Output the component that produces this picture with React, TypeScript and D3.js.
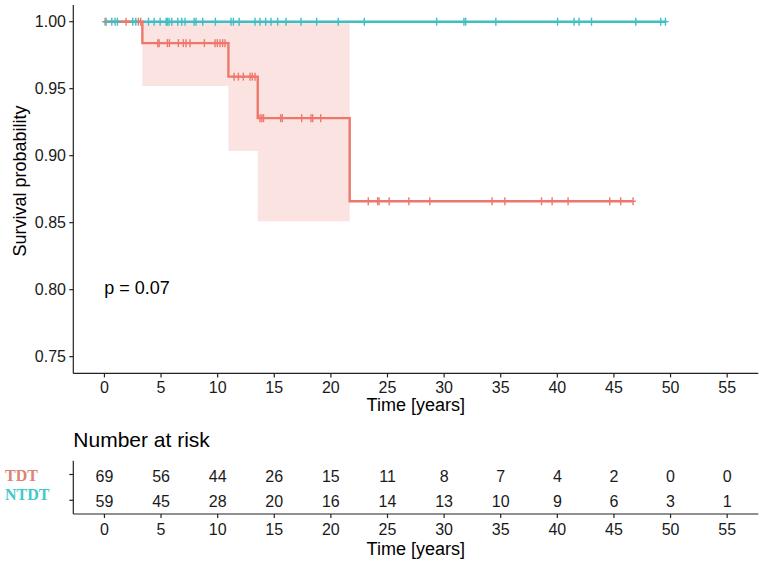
import React, { useEffect } from "react";
import * as d3 from "d3";

// ---- data ----
const tdtDropTimes = [0, 3.35, 10.95, 13.54, 21.66];
const tdtSurv = [1.0, 0.984, 0.959, 0.928, 0.866];
const tdtLower = [1.0, 0.952, 0.9035, 0.851, NaN];
const tdtEnd = 46.69;
const ntdtEnd = 49.55;

const tdtCensor = [0.06, 1.91, 3.0, 3.2, 4.71, 4.83, 5.56, 5.74, 6.53, 6.97, 7.21, 7.56, 8.83, 9.77, 9.97, 10.21, 10.44, 10.65,
  11.45, 11.83, 12.27, 12.86, 13.06, 13.3, 13.74, 13.9, 14.05, 15.56, 15.71, 17.42, 18.24, 18.39, 19.1,
  23.3, 24.13, 24.25, 25.15, 26.89, 28.74, 34.24, 35.37, 38.6, 39.54, 40.95, 44.63, 45.6, 46.69];
const ntdtCensor = [0.15, 0.65, 0.94, 1.15, 2.5, 2.77, 3.89, 4.39, 4.92, 5.45, 5.56, 5.71, 5.95, 6.48, 6.83, 7.12, 7.92, 8.09,
  8.68, 9.8, 11.18, 11.39, 11.9, 13.3, 13.74, 14.24, 14.71, 15.3, 16.04, 17.36, 18.74, 20.65, 22.95, 29.34, 31.75, 31.9,
  34.57, 40.02, 41.48, 41.92, 43.02, 46.93, 49.13, 49.55];

const xTicks = [0, 5, 10, 15, 20, 25, 30, 35, 40, 45, 50, 55];
const yTicks = [0.75, 0.8, 0.85, 0.9, 0.95, 1.0];
const riskTDT = [69, 56, 44, 26, 15, 11, 8, 7, 4, 2, 0, 0];
const riskNTDT = [59, 45, 28, 20, 16, 14, 13, 10, 9, 6, 3, 1];
const pLabel = "p = 0.07";

const RED = "#EE776C";
const CYAN = "#3FBEC3";
const BAND = "#FBE3E1";
const FONT = "'Liberation Sans', Arial, sans-serif";

export default function App() {
  useEffect(() => {
    document.body.style.margin = "0";
  }, []);

  const W = 762, H = 567;
  const x = d3.scaleLinear().domain([-2.75, 57.75]).range([73.3, 758.3]);
  const y = d3.scaleLinear().domain([0.7375, 1.0125]).range([373.4, 4.95]);

  const stepLine = d3.line<[number, number]>().x(d => x(d[0])).y(d => y(d[1])).curve(d3.curveStepAfter);

  const tdtPts: [number, number][] = tdtDropTimes.map((t, i) => [t, tdtSurv[i]] as [number, number]);
  tdtPts.push([tdtEnd, tdtSurv[tdtSurv.length - 1]]);
  const ntdtPts: [number, number][] = [[0, 1], [ntdtEnd, 1]];

  const bandPts: { t: number; lo: number; hi: number }[] = [];
  for (let i = 1; i < tdtDropTimes.length; i++) {
    const lo = isNaN(tdtLower[i]) ? tdtLower[i - 1] : tdtLower[i];
    bandPts.push({ t: tdtDropTimes[i], lo, hi: 1 });
  }
  const band = d3.area<{ t: number; lo: number; hi: number }>()
    .x(d => x(d.t)).y0(d => y(d.lo)).y1(d => y(d.hi)).curve(d3.curveStepAfter);

  const survAt = (t: number) => {
    let s = 1;
    for (let i = 0; i < tdtDropTimes.length; i++) if (t >= tdtDropTimes[i]) s = tdtSurv[i];
    return s;
  };

  const axisColor = "#222";
  const yAxisX = 73.3;
  const mainBottom = 373.4;
  const riskTop = 460.7, riskBottom = 514;
  const rowTDT = 476, rowNTDT = 501.3;

  return (
    <svg width={W} height={H} style={{ display: "block", position: "absolute", left: 0, top: 0, background: "#fff" }} fontFamily={FONT}>
      <rect x={0} y={0} width={W} height={H} fill="#fff" />
      {/* band */}
      <path d={band(bandPts) || ""} fill={BAND} stroke="none" />
      {/* curves */}
      <path d={stepLine(ntdtPts) || ""} fill="none" stroke={CYAN} strokeWidth={2.4} />
      <path d={stepLine(tdtPts) || ""} fill="none" stroke={RED} strokeWidth={2.4} />
      {/* censor marks */}
      {tdtCensor.map((t, i) => (
        <g key={"tc" + i} stroke={RED} strokeWidth={1.4}>
          <line x1={x(t)} x2={x(t)} y1={y(survAt(t)) - 4} y2={y(survAt(t)) + 4} />
          <line x1={x(t) - 3} x2={x(t) + 3} y1={y(survAt(t))} y2={y(survAt(t))} />
        </g>
      ))}
      {ntdtCensor.map((t, i) => (
        <g key={"nc" + i} stroke={CYAN} strokeWidth={1.4}>
          <line x1={x(t)} x2={x(t)} y1={y(1) - 4} y2={y(1) + 4} />
          <line x1={x(t) - 3} x2={x(t) + 3} y1={y(1)} y2={y(1)} />
        </g>
      ))}

      {/* main axes */}
      <line x1={yAxisX} x2={yAxisX} y1={4.95} y2={mainBottom} stroke={axisColor} strokeWidth={1.2} />
      <line x1={yAxisX} x2={758.3} y1={mainBottom} y2={mainBottom} stroke={axisColor} strokeWidth={1.2} />
      {yTicks.map(v => (
        <g key={"yt" + v}>
          <line x1={yAxisX - 4} x2={yAxisX} y1={y(v)} y2={y(v)} stroke={axisColor} strokeWidth={1.2} />
          <text x={66} y={y(v) + 5.7} textAnchor="end" fontSize={16} fill="#1a1a1a">{v.toFixed(2)}</text>
        </g>
      ))}
      {xTicks.map(v => (
        <g key={"xt" + v}>
          <line x1={x(v)} x2={x(v)} y1={mainBottom} y2={mainBottom + 4} stroke={axisColor} strokeWidth={1.2} />
          <text x={x(v)} y={392.5} textAnchor="middle" fontSize={16} fill="#1a1a1a">{v}</text>
        </g>
      ))}
      <text x={415.8} y={411} textAnchor="middle" fontSize={18} fill="#000">Time [years]</text>
      <text transform={`translate(26,181) rotate(-90)`} textAnchor="middle" fontSize={18} fill="#000">Survival probability</text>
      <text x={104.3} y={294} fontSize={18} fill="#000">{pLabel}</text>

      {/* risk table */}
      <text x={73.3} y={447} fontSize={21} fill="#000">Number at risk</text>
      <line x1={yAxisX} x2={yAxisX} y1={riskTop} y2={riskBottom} stroke={axisColor} strokeWidth={1.2} />
      <line x1={yAxisX} x2={758.3} y1={riskBottom} y2={riskBottom} stroke={axisColor} strokeWidth={1.2} />
      <line x1={yAxisX - 4} x2={yAxisX} y1={rowTDT - 1.5} y2={rowTDT - 1.5} stroke={axisColor} strokeWidth={1.2} />
      <line x1={yAxisX - 4} x2={yAxisX} y1={rowNTDT - 1} y2={rowNTDT - 1} stroke={axisColor} strokeWidth={1.2} />
      <text x={5} y={480.5} fontSize={16} fontWeight="bold" fontFamily="'Liberation Serif', 'Times New Roman', serif" fill="#DD8275">TDT</text>
      <text x={5} y={499.8} fontSize={16} fontWeight="bold" fontFamily="'Liberation Serif', 'Times New Roman', serif" fill="#3ECACB">NTDT</text>
      {xTicks.map((v, i) => (
        <g key={"rk" + v}>
          <text x={x(v)} y={rowTDT + 5.7} textAnchor="middle" fontSize={16} fill="#1a1a1a">{riskTDT[i]}</text>
          <text x={x(v)} y={rowNTDT + 5.7} textAnchor="middle" fontSize={16} fill="#1a1a1a">{riskNTDT[i]}</text>
          <line x1={x(v)} x2={x(v)} y1={riskBottom} y2={riskBottom + 4} stroke={axisColor} strokeWidth={1.2} />
          <text x={x(v)} y={535} textAnchor="middle" fontSize={16} fill="#1a1a1a">{v}</text>
        </g>
      ))}
      <text x={415.8} y={555} textAnchor="middle" fontSize={18} fill="#000">Time [years]</text>
    </svg>
  );
}
